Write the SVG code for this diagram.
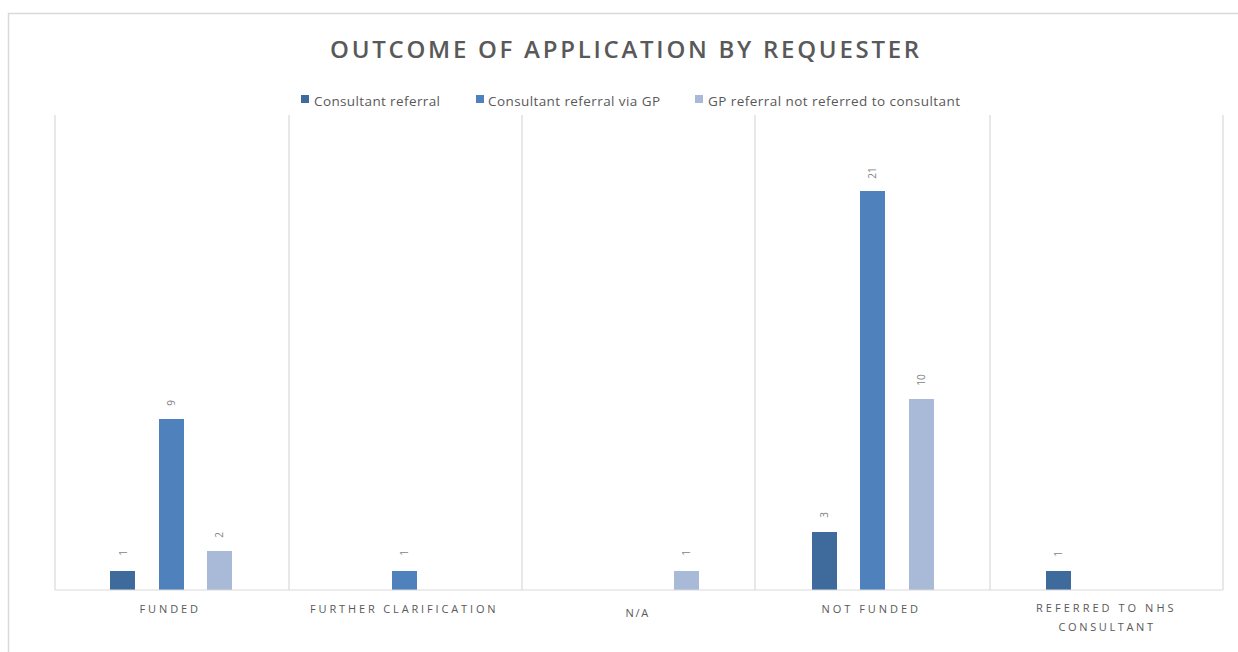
<svg xmlns="http://www.w3.org/2000/svg" width="1238" height="652" viewBox="0 0 1238 652">
<style>
.bg{fill:#ffffff}
.frame{fill:none;stroke:#d9d9d9;stroke-width:1.5}
.grid{stroke:#d9d9d9;stroke-width:1.2;fill:none}
.c1{fill:#3f6a9c}
.c2{fill:#4f81bd}
.c3{fill:#a9b9d8}
.title{font-family:"Open Sans","Liberation Sans",sans-serif;font-size:24px;font-weight:600;fill:#595959;letter-spacing:2.8px}
.leg{font-family:"Open Sans","Liberation Sans",sans-serif;font-size:13.5px;fill:#595959}
.cat{font-family:"Open Sans","Liberation Sans",sans-serif;font-size:11px;fill:#595959;letter-spacing:2.4px}
.val{font-family:"Open Sans","Liberation Sans",sans-serif;font-size:10px;fill:#7f7f7f}
</style>
<rect class="bg" x="0" y="0" width="1238" height="652"/>
<rect class="frame" x="8.5" y="13.5" width="1240" height="650"/>
<g id="title"><text class="title" x="626" y="58" text-anchor="middle" textLength="592" lengthAdjust="spacing">OUTCOME OF APPLICATION BY REQUESTER</text></g>
<g id="legend">
<rect class="c1" x="301" y="95" width="8" height="8"/>
<text class="leg" x="314" y="106" textLength="126" lengthAdjust="spacing">Consultant referral</text>
<rect class="c2" x="476" y="95" width="8" height="8"/>
<text class="leg" x="488" y="106" textLength="172" lengthAdjust="spacing">Consultant referral via GP</text>
<rect class="c3" x="695" y="95" width="8" height="8"/>
<text class="leg" x="708" y="106" textLength="252" lengthAdjust="spacing">GP referral not referred to consultant</text>
</g>
<g id="gridlines">
<line class="grid" x1="55" y1="115" x2="55" y2="590"/>
<line class="grid" x1="289" y1="115" x2="289" y2="590"/>
<line class="grid" x1="522" y1="115" x2="522" y2="590"/>
<line class="grid" x1="755" y1="115" x2="755" y2="590"/>
<line class="grid" x1="990" y1="115" x2="990" y2="590"/>
<line class="grid" x1="1223" y1="115" x2="1223" y2="590"/>
</g>
<g id="funded">
<rect class="c1" x="110" y="571" width="25" height="19"/>
<rect class="c2" x="159" y="419" width="25" height="171"/>
<rect class="c3" x="207" y="551" width="25" height="39"/>
<text class="val" x="123" y="553" text-anchor="middle" dominant-baseline="central" transform="rotate(-90 123 553)">1</text>
<text class="val" x="171" y="403" text-anchor="middle" dominant-baseline="central" transform="rotate(-90 171 403)">9</text>
<text class="val" x="219" y="535" text-anchor="middle" dominant-baseline="central" transform="rotate(-90 219 535)">2</text>
<text class="cat" x="170" y="613" text-anchor="middle" textLength="61" lengthAdjust="spacing">FUNDED</text>
</g>
<g id="further-clarification">
<rect class="c2" x="392" y="571" width="25" height="19"/>
<text class="val" x="404" y="553" text-anchor="middle" dominant-baseline="central" transform="rotate(-90 404 553)">1</text>
<text class="cat" x="404" y="613" text-anchor="middle" textLength="188" lengthAdjust="spacing">FURTHER CLARIFICATION</text>
</g>
<g id="na">
<rect class="c3" x="674" y="571" width="25" height="19"/>
<text class="val" x="686" y="553" text-anchor="middle" dominant-baseline="central" transform="rotate(-90 686 553)">1</text>
<text class="cat" x="638" y="617" text-anchor="middle" textLength="25" lengthAdjust="spacing">N/A</text>
</g>
<g id="not-funded">
<rect class="c1" x="812" y="532" width="25" height="58"/>
<rect class="c2" x="860" y="191" width="25" height="399"/>
<rect class="c3" x="909" y="399" width="25" height="191"/>
<text class="val" x="824" y="515" text-anchor="middle" dominant-baseline="central" transform="rotate(-90 824 515)">3</text>
<text class="val" x="872" y="173" text-anchor="middle" dominant-baseline="central" transform="rotate(-90 872 173)">21</text>
<text class="val" x="921" y="380" text-anchor="middle" dominant-baseline="central" transform="rotate(-90 921 380)">10</text>
<text class="cat" x="871" y="613" text-anchor="middle" textLength="99" lengthAdjust="spacing">NOT FUNDED</text>
</g>
<g id="referred-to-nhs-consultant">
<rect class="c1" x="1046" y="571" width="25" height="19"/>
<text class="val" x="1058" y="554" text-anchor="middle" dominant-baseline="central" transform="rotate(-90 1058 554)">1</text>
<text class="cat" x="1106" y="612" text-anchor="middle" textLength="140" lengthAdjust="spacing">REFERRED TO NHS</text>
<text class="cat" x="1107" y="631" text-anchor="middle" textLength="97" lengthAdjust="spacing">CONSULTANT</text>
</g>
<g id="connectors">
<line class="grid" x1="55" y1="590" x2="1223" y2="590"/>
</g>
</svg>
